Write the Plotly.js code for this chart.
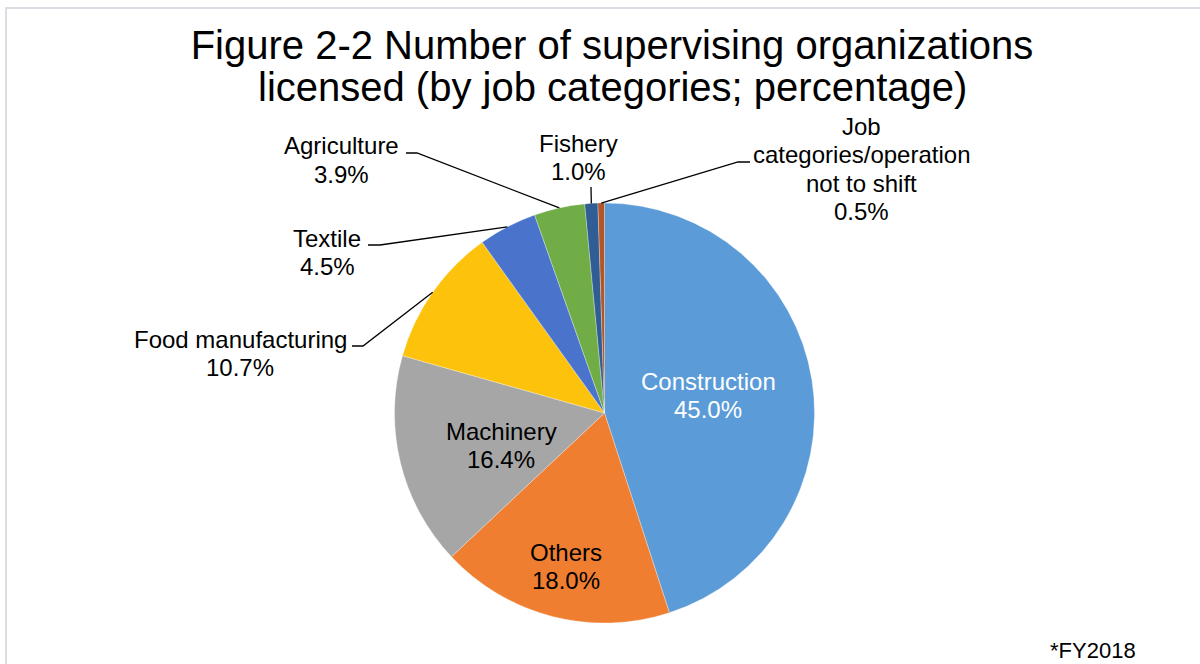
<!DOCTYPE html>
<html>
<head>
<meta charset="utf-8">
<script src="https://cdn.plot.ly/plotly-3.0.1.min.js"></script>
<style>html,body{margin:0;padding:0;background:#fff;}#chart{width:1200px;height:664px;}</style>
</head>
<body>
<div id="chart"></div>
<script>
// ---- data ----
var categories = ["Construction", "Others", "Machinery", "Food manufacturing", "Textile", "Agriculture", "Fishery", "Job categories/operation not to shift"];
var labelLines = [["Construction"], ["Others"], ["Machinery"], ["Food manufacturing"], ["Textile"], ["Agriculture"], ["Fishery"], ["Job", "categories/operation", "not to shift"]];
var values = [45.0, 18.0, 16.4, 10.7, 4.5, 3.9, 1.0, 0.5];
var colors = ["#5B9BD8", "#EF7E30", "#A6A6A6", "#FCC20C", "#4A74CB", "#70AD47", "#2F5D94", "#B05628"];
var titleLines = ["Figure 2-2 Number of supervising organizations", "licensed (by job categories; percentage)"];
var note = "*FY2018";

// ---- layout helpers ----
var W = 1200, H = 664;
var cx = 604.5, cy = 413, R = 210;
function px(x){ return x / W; }
function py(y){ return 1 - y / H; }
var FONT = "'Liberation Sans', Arial, sans-serif";

// label placement (pixels): center x, first line y, line step, colour
var labelPos = [
  {x: 708, y: 381, c: "#ffffff"},
  {x: 566, y: 552, c: "#000000"},
  {x: 501, y: 431, c: "#000000"},
  {x: 240, y: 339, c: "#000000"},
  {x: 327, y: 238, c: "#000000"},
  {x: 342, y: 146, c: "#000000"},
  {x: 578, y: 143, c: "#000000"},
  {x: 861, y: 126, c: "#000000"}
];
var lineStep = 28.5;

// leader lines for outside labels: elbow and end point (pixels)
var leaders = {
  3: [[363, 346], [352, 346]],
  4: [[380, 245], [368, 245]],
  5: [[417, 153], [406, 153]],
  6: [[591, 187]],
  7: [[738, 162], [750, 162]]
};

var annotations = [];
var shapes = [];
var total = values.reduce(function(a,b){return a+b;}, 0);
var cum = 0;
values.forEach(function(v, i){
  var mid = (cum + v / 2) / total * 2 * Math.PI;
  cum += v;
  var lines = labelLines[i].concat([v.toFixed(1) + "%"]);
  var p = labelPos[i];
  lines.forEach(function(t, k){
    annotations.push({
      text: t, showarrow: false, xref: "paper", yref: "paper",
      x: px(p.x), y: py(p.y + k * lineStep), xanchor: "center", yanchor: "middle",
      font: {family: FONT, size: 24, color: p.c}
    });
  });
  if (leaders[i]) {
    var ex = cx + R * Math.sin(mid), ey = cy - R * Math.cos(mid);
    var d = "M" + px(ex) + "," + py(ey);
    leaders[i].forEach(function(pt){ d += " L" + px(pt[0]) + "," + py(pt[1]); });
    shapes.push({type: "path", xref: "paper", yref: "paper", path: d,
      line: {color: "#000000", width: 1.3}});
  }
});

// second title line
annotations.push({text: titleLines[1], showarrow: false, xref: "paper", yref: "paper",
  x: px(612), y: py(87), xanchor: "center", yanchor: "middle",
  font: {family: FONT, size: 40, color: "#000000"}});
// note
annotations.push({text: note, showarrow: false, xref: "paper", yref: "paper",
  x: px(1093), y: py(650), xanchor: "center", yanchor: "middle",
  font: {family: FONT, size: 22, color: "#000000"}});

// chart frame (left and top edges)
shapes.push({type: "path", xref: "paper", yref: "paper",
  path: "M" + px(6) + "," + py(700) + " L" + px(6) + "," + py(8) + " L" + px(1205) + "," + py(8),
  line: {color: "#DADEE4", width: 2}});

var trace = {
  type: "pie",
  labels: categories,
  values: values,
  sort: false,
  direction: "clockwise",
  rotation: 0,
  textinfo: "none",
  hoverinfo: "label+percent",
  marker: {colors: colors, line: {color: "rgba(255,255,255,0.5)", width: 0.6}},
  domain: {x: [px(cx - R), px(cx + R)], y: [py(cy + R), py(cy - R)]},
  showlegend: false
};

var layout = {
  width: W, height: H,
  margin: {l: 0, r: 0, t: 0, b: 0},
  paper_bgcolor: "#ffffff",
  title: {text: titleLines[0], x: px(612), xanchor: "center", y: py(45), yanchor: "middle",
    font: {family: FONT, size: 40, color: "#000000"}},
  showlegend: false,
  annotations: annotations,
  shapes: shapes
};

Plotly.newPlot("chart", [trace], layout, {displayModeBar: false, staticPlot: true});
</script>
</body>
</html>
